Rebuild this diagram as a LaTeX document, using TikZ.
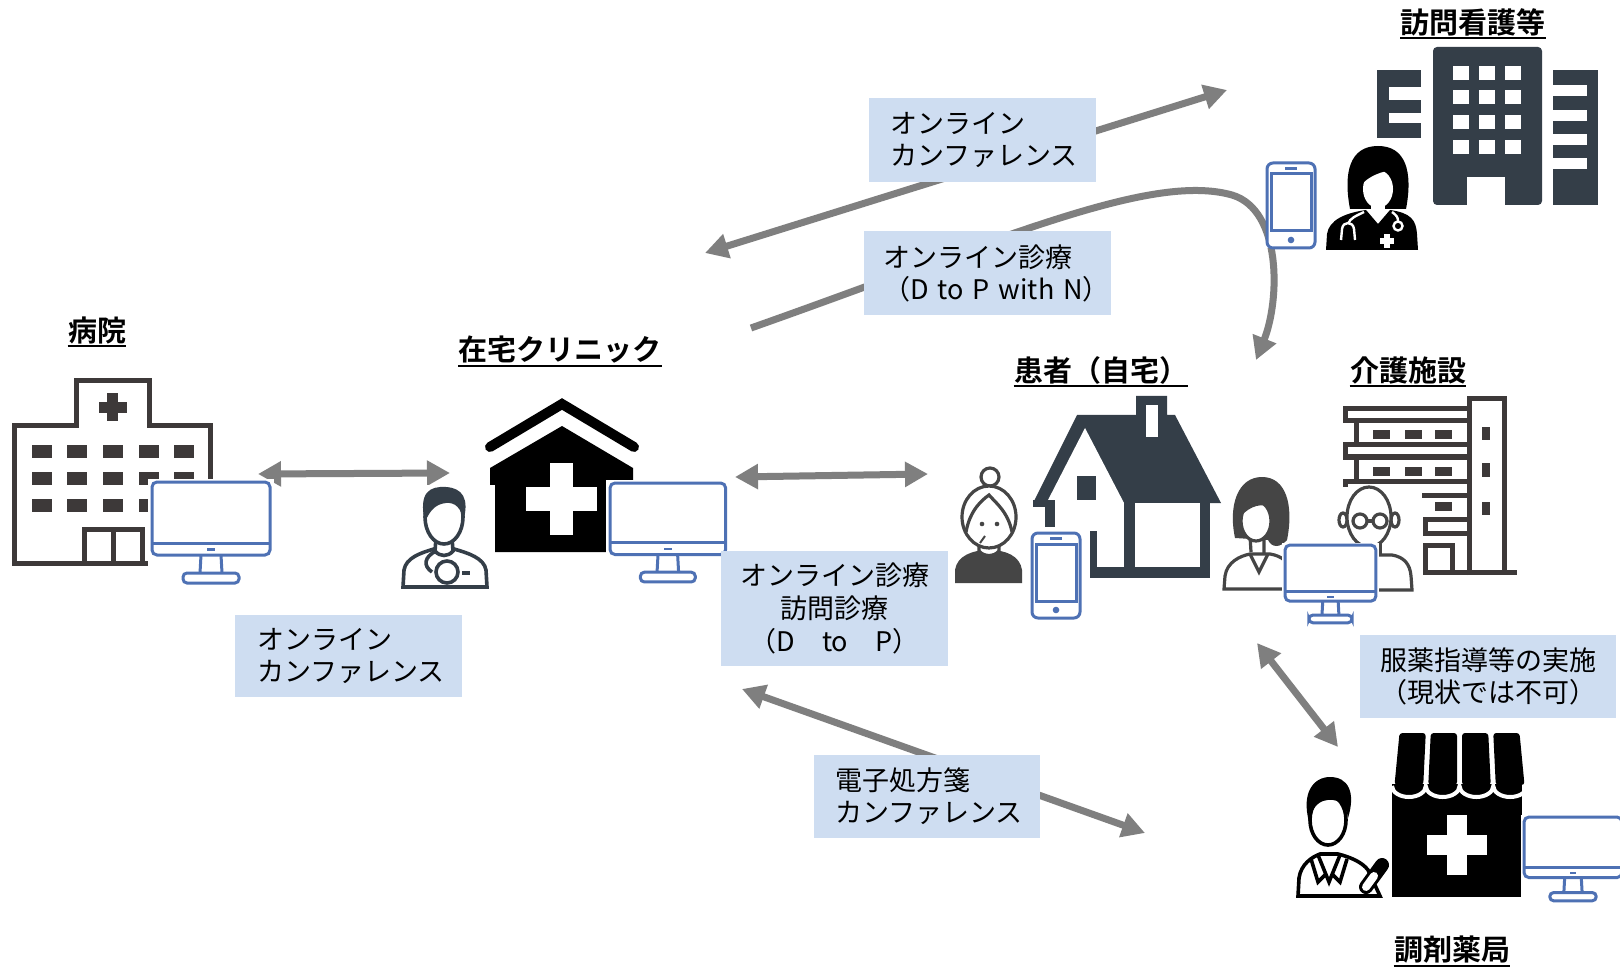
\documentclass[tikz,border=0pt]{standalone}
\usepackage{fontspec}
\setmainfont{Noto Sans CJK JP}[BoldFont={Noto Sans CJK JP Bold}]
\usetikzlibrary{arrows.meta}

\definecolor{arrowgray}{HTML}{7F7F7F}
\definecolor{boxblue}{HTML}{CEDDF1}
\definecolor{monblue}{HTML}{4E71B4}
\definecolor{slate}{HTML}{343E48}
\definecolor{hosgray}{HTML}{3D3939}
\definecolor{persongray}{HTML}{454545}

\tikzset{
  flow/.style={draw=arrowgray, line width=3.5pt},
  lbl/.style={fill=boxblue, text=black, inner ysep=0pt,
    font=\fontsize{13.5pt}{16pt}\selectfont},
  ttl/.style={inner sep=0pt, text=black,
    font=\bfseries\fontsize{14.5pt}{17pt}\selectfont},
  uline/.style={line width=1pt, black},
  mon/.style={draw=monblue, line width=1.5pt},
  monitor/.pic={
    \fill[white] (-4,-3) rectangle (122,104);
    \draw[mon, rounded corners=2.5pt] (0,0) rectangle (118,73);
    \draw[mon] (0,61) -- (118,61);
    \fill[monblue] (55,66) rectangle (63,68.5);
    \draw[mon] (49,73) -- (48,91) (69,73) -- (70,91);
    \draw[mon, rounded corners=2pt] (31,91) rectangle (87,101);
  },
  phone/.pic={
    \fill[white] (0,0) rectangle (48,85);
    \draw[mon, rounded corners=3pt] (0,0) rectangle (48,85);
    \draw[mon] (4,11) rectangle (44,68);
    \draw[mon] (18,5.5) -- (30,5.5);
    \fill[monblue] (24,77) circle (3.3);
  },
}

\begin{document}
\begin{tikzpicture}[x=0.5pt, y=-0.5pt, >={Triangle[length=11.5pt,width=12pt]}]
\useasboundingbox (0,0) rectangle (1620,967);
\fill[white] (0,0) rectangle (1620,967);

% ---------------- connectors ----------------
\coordinate (hospR) at (258,474);   \coordinate (clinL) at (450,473);
\coordinate (clinR) at (735,477);   \coordinate (patL)  at (928,474);
\coordinate (confA) at (705,253);   \coordinate (nurseL) at (1227,90);
\coordinate (dpnA)  at (751,328);   \coordinate (patTop) at (1256,360);
\coordinate (rxA)   at (742,689);   \coordinate (pharmL) at (1145,833);
\coordinate (patB)  at (1257,643);  \coordinate (pharmT) at (1338,747);

\draw[flow, <->] (hospR) -- (clinL);
\draw[flow, <->] (clinR) -- (patL);
\draw[flow, <->] (confA) -- (nurseL);
\draw[flow, ->] (dpnA) .. controls (1000,240) and (1150,172) .. (1232,195)
                 .. controls (1282,210) and (1280,300) .. (patTop);
\draw[flow, <->] (rxA) -- (pharmL);
\draw[flow, <->] (patB) -- (pharmT);

% ---------------- titles ----------------
\node[ttl] (tHosp)  at (97,330)   {病院};
\node[ttl] (tClin)  at (560,350)  {在宅クリニック};
\node[ttl] (tPat)   at (1101,370) {患者（自宅）};
\node[ttl] (tCare)  at (1408,370) {介護施設};
\node[ttl] (tNurse) at (1473,22)  {訪問看護等};
\node[ttl] (tPharm) at (1452,950) {調剤薬局};
\foreach \t in {tHosp,tClin,tPat,tCare,tNurse,tPharm}
  \draw[uline] ([yshift=-0.9pt]\t.south west) -- ([yshift=-0.9pt]\t.south east);

% ---------------- hospital ----------------
\begin{scope}[hosgray]
  \draw[line width=2.5pt, line join=miter] (150,563.5) -- (14.5,563.5) -- (14.5,425.5)
    -- (76.5,425.5) -- (76.5,380.5) -- (149.5,380.5) -- (149.5,425.5)
    -- (210.5,425.5) -- (210.5,560);
  \fill (107,393) rectangle (118,421);
  \fill (99,402) rectangle (127,413);
  \foreach \x in {32,67,103,139,174}
    \foreach \y in {445,472,499}
      \fill (\x,\y) rectangle ++(20,13);
  \draw[line width=2.5pt, line join=miter] (84.5,563.5) -- (84.5,529.5) -- (142.5,529.5) -- (142.5,563.5);
  \draw[line width=2.5pt] (113.5,529.5) -- (113.5,563.5);
\end{scope}
\pic at (152,482) {monitor};

% ---------------- home clinic ----------------
\draw[line width=5pt, line cap=round, line join=miter] (490,447) -- (562,404) -- (634,447);
\fill (490,468) -- (562,426) -- (633,468) -- (633,552) -- (490,552) -- cycle;
\fill[white] (550,463) rectangle (573,535);
\fill[white] (526,487) rectangle (597,511);
% doctor
\fill[white] (394,485) rectangle (495,588);
\begin{scope}[slate, line width=1.8pt]
  \draw[fill=white] (403,587) -- (404,570) .. controls (406,558) and (420,553) .. (434,549)
    -- (454,549) .. controls (468,553) and (484,558) .. (486,570) -- (487,587) -- cycle;
  \draw[fill=white] (436,538) -- (435,551) .. controls (440,557) and (448,557) .. (453,551) -- (452,538);
  \draw[fill=white] (444,517) ellipse [x radius=19, y radius=27];
  \fill (425,522) .. controls (418,492) and (430,486) .. (446,487) .. controls (462,488) and (470,498) .. (463,522)
    .. controls (462,508) and (455,502) .. (446,503) .. controls (436,504) and (430,510) .. (425,522) -- cycle;
  \draw (436,551) .. controls (424,557) and (423,566) .. (432,572);
  \draw[fill=white] (447,572) circle (11);
  \draw (462,573) -- (470,573);
\end{scope}
\pic[scale=0.98] at (610,483) {monitor};

% ---------------- visiting nursing office ----------------
\begin{scope}[slate]
  \fill[rounded corners=2pt] (1433,205) -- (1433,47) -- (1542,47) -- (1542,205) -- cycle;
  \foreach \x in {1453,1479,1505}
    \foreach \y in {66,90,115,140}
      \fill[white] (\x,\y) rectangle ++(16,14);
  \fill[white] (1467,177) rectangle (1505,206);
  \fill (1377,70) rectangle (1421,138);
  \fill[white] (1389,87) rectangle (1422,100);
  \fill[white] (1389,113) rectangle (1422,123);
  \fill (1553,70) rectangle (1598,205);
  \foreach \y in {85,110,134,158}
    \fill[white] (1552,\y) rectangle (1587,\y+11);
\end{scope}
% nurse
\begin{scope}[black]
  \fill (1350,209) .. controls (1343,172) and (1350,146) .. (1378,146) .. controls (1406,146) and (1413,172) .. (1406,209) -- cycle;
  \fill[white] (1378,189) ellipse [x radius=15, y radius=19];
  \fill (1362,184) .. controls (1362,166) and (1378,160) .. (1393,170) .. controls (1382,171) and (1369,176) .. (1362,184) -- cycle;
  \fill[white] (1371,204) rectangle (1385,214);
  \fill (1326,250) -- (1327,234) .. controls (1329,220) and (1345,213) .. (1366,210) -- (1378,224) -- (1390,210)
    .. controls (1411,213) and (1416,220) .. (1417,234) -- (1418,250) -- cycle;
  \draw[white, line width=1.2pt] (1364,212) .. controls (1356,216) and (1350,218) .. (1348,224);
  \draw[white, line width=1.2pt] (1341,240) -- (1342,229) .. controls (1343,221) and (1353,221) .. (1354,229) -- (1355,240);
  \draw[white, line width=1.2pt] (1392,212) .. controls (1396,215) and (1398,217) .. (1398,221);
  \draw[white, line width=1.2pt] (1398,226) circle (4.5);
  \fill[white] (1384,234) rectangle (1390,248);
  \fill[white] (1380,238) rectangle (1394,244);
\end{scope}
\pic at (1267,163) {phone};

% ---------------- patient home ----------------
\begin{scope}[slate]
  \fill (1033,503) -- (1077,415) -- (1136,415) -- (1136,396) -- (1167,396) -- (1167,415)
    -- (1175,415) -- (1221,503) -- cycle;
  \fill[white] (1146,405) rectangle (1158,437);
  \fill[white] (1085,428) -- (1124,503) -- (1124,512) -- (1048,512) -- (1048,500) -- cycle;
  \fill (1033,500) rectangle (1055,507);
  \fill (1045,500) rectangle (1055,527);
  \fill (1077,476) rectangle (1096,500);
  \fill (1124,500) rectangle (1210,578);
  \fill[white] (1135,503) rectangle (1200,567);
  \fill (1090,567) rectangle (1210,578);
  \fill (1090,531) rectangle (1097,578);
\end{scope}
% elderly woman
\begin{scope}[persongray, line width=1.6pt]
  \fill (955,583) -- (955,570) .. controls (957,556) and (972,550) .. (989,550)
    .. controls (1006,550) and (1020,556) .. (1022,570) -- (1022,583) -- cycle;
  \draw[fill=white] (979,538) -- (979,551) .. controls (984,557) and (994,557) .. (999,551) -- (999,538);
  \draw[fill=white] (990,477) circle (9);
  \draw[fill=white] (989,517) ellipse [x radius=27, y radius=31];
  \draw (966,532) .. controls (970,510) and (982,500) .. (989,495) .. controls (996,503) and (1008,512) .. (1012,532);
  \fill (982,524) circle (2.3);
  \fill (997,524) circle (2.3);
  \draw[line width=1pt] (985,536) -- (980,543);
\end{scope}
\pic at (1032,533) {phone};

% ---------------- care facility ----------------
\begin{scope}[hosgray, line width=2.5pt]
  \draw (1469.5,575) -- (1469.5,398.5) -- (1504.5,398.5) -- (1504.5,572);
  \draw (1423,572.5) -- (1517,572.5);
  \fill (1482,427) rectangle (1490,440);
  \fill (1482,463) rectangle (1490,477);
  \fill (1482,502) rectangle (1490,515);
  \draw (1345,409) rectangle (1469,421);
  \draw (1356,421) -- (1356,445);
  \draw (1345,445) rectangle (1469,457);
  \draw (1356,457) -- (1356,481);
  \draw (1345,481) rectangle (1469,495);
  \foreach \x in {1373,1405,1435} {
    \fill (\x,430) rectangle ++(17,9);
    \fill (\x,467) rectangle ++(17,9);
  }
  \fill (1435,502) rectangle (1452,511);
  \draw (1425,519) rectangle (1469,533);
  \draw (1425,572) -- (1425,545) -- (1452,545) -- (1452,572);
\end{scope}
% elderly man
\fill[white] (1340,487) rectangle (1422,592);
\begin{scope}[persongray, line width=1.6pt]
  \draw[fill=white] (1346,590) -- (1347,576) .. controls (1350,562) and (1362,557) .. (1372,555)
    -- (1392,555) .. controls (1404,557) and (1410,564) .. (1411,576) -- (1412,590) -- cycle;
  \draw[fill=white] (1360,540) -- (1360,556) (1380,540) -- (1380,556);
  \draw[fill=white] (1343,520) ellipse [x radius=4, y radius=7];
  \draw[fill=white] (1395,520) ellipse [x radius=4, y radius=7];
  \draw[fill=white] (1369,517) ellipse [x radius=22, y radius=30];
  \draw (1360,521) circle (7);
  \draw (1380,521) circle (7);
  \draw (1367,521) -- (1373,521);
\end{scope}
% younger woman
\begin{scope}[persongray, line width=1.6pt]
  \draw[fill=white] (1224,589) -- (1225,576) .. controls (1227,562) and (1240,556) .. (1250,554)
    -- (1270,554) .. controls (1282,556) and (1290,562) .. (1291,576) -- (1292,589) -- cycle;
  \draw (1250,554) -- (1259,572) -- (1268,554);
  \fill (1235,538) .. controls (1228,505) and (1238,477) .. (1262,477) .. controls (1286,477) and (1294,505) .. (1287,540)
    .. controls (1280,548) and (1272,548) .. (1268,540) -- cycle;
  \draw[fill=white] (1250,536) -- (1251,552) (1264,538) -- (1264,553);
  \draw[fill=white] (1256,521) ellipse [x radius=15, y radius=20];
  \fill (1241,516) .. controls (1243,497) and (1262,492) .. (1274,508) .. controls (1262,502) and (1250,506) .. (1241,516) -- cycle;
\end{scope}
\pic[scale=0.77] at (1285,545) {monitor};

% ---------------- pharmacy ----------------
\foreach \i in {0,1,2,3}
  \fill[rounded corners=1.5pt] ({1397+31.25*\i+2.5},733) -- ({1397+31.25*(\i+1)-2.5},733)
    -- ({1392+33.75*(\i+1)-2.5},785) -- ({1392+33.75*\i+2.5},785) -- cycle;
\fill (1392,784) rectangle (1522,897);
\draw[white, line width=2pt] (1392,786)
  \foreach \i in {0,1,2,3} { arc[start angle=180, end angle=0, x radius=16.875, y radius=11] };
\fill[white] (1447,815) rectangle (1467,875);
\fill[white] (1427,835) rectangle (1487,855);
% pharmacist
\fill[white] (1293,772) rectangle (1392,897);
\begin{scope}[black, line width=1.8pt]
  \draw[fill=white] (1298,896) -- (1299,878) .. controls (1301,864) and (1312,857) .. (1320,854)
    -- (1338,854) .. controls (1350,857) and (1362,862) .. (1368,870) -- (1380,896) -- cycle;
  \draw (1318,855) -- (1329,882) -- (1340,855);
  \draw (1311,859) -- (1318,882) -- (1326,874);
  \draw (1347,859) -- (1340,882) -- (1332,874);
  \draw[fill=white] (1328,820) ellipse [x radius=18, y radius=25];
  \fill (1309,822) .. controls (1301,792) and (1314,777) .. (1330,777) .. controls (1348,777) and (1356,792) .. (1348,818)
    .. controls (1346,803) and (1336,797) .. (1323,801) .. controls (1315,804) and (1311,812) .. (1309,822) -- cycle;
  \draw[line width=7pt, line cap=round] (1366,887) -- (1382,865);
  \draw[white, line width=4pt, line cap=round] (1366,887) -- (1374,876);
\end{scope}
\pic[scale=0.83] at (1524,817) {monitor};

% ---------------- label boxes (on top of connectors and icons) ----------------
\node[lbl, inner xsep=10.5pt, text width=92.5pt, align=left, minimum height=42pt]
  (bConfTop) at (982.5,140) {オンライン\\カンファレンス};
\node[lbl, inner xsep=9.5pt, text width=104.5pt, align=left, minimum height=42pt]
  (bDPN) at (987.5,273) {オンライン診療\\\mbox{（D to P with N）}};
\node[lbl, inner xsep=11pt, text width=91.5pt, align=left, minimum height=41pt]
  (bConfLeft) at (348.5,656) {オンライン\\カンファレンス};
\node[lbl, inner xsep=0pt, text width=113.5pt, align=center, minimum height=57.5pt,
  font=\fontsize{13.5pt}{16.5pt}\selectfont]
  (bDP) at (834.5,608.5) {オンライン診療\\訪問診療\\（D　to　P）};
\node[lbl, inner xsep=10.5pt, text width=92pt, align=left, minimum height=41.5pt]
  (bRx) at (927,796.5) {電子処方箋\\カンファレンス};
\node[lbl, inner xsep=0pt, text width=128pt, align=center, minimum height=41.5pt]
  (bMed) at (1488,676.5) {服薬指導等の実施\\（現状では不可）};

\end{tikzpicture}
\end{document}
